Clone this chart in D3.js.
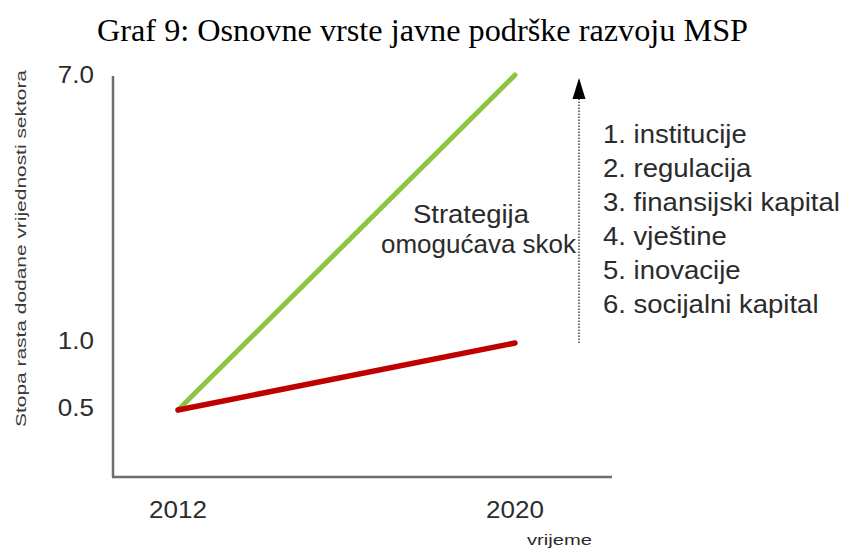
<!DOCTYPE html>
<html><head><meta charset="utf-8">
<script src="https://cdn.jsdelivr.net/npm/d3@7"></script>
<style>body{margin:0;background:#fff}</style>
</head><body>
<svg id="c" width="848" height="550"></svg>
<script>
const years = [2012, 2020];
const strategyValues = [0.5, 7.0];   // green
const baselineValues = [0.5, 1.0];   // red
const yTicks = [0.5, 1.0, 7.0];
const xTicks = [2012, 2020];
const measures = ["1. institucije","2. regulacija","3. finansijski kapital","4. vještine","5. inovacije","6. socijalni kapital"];
const titleText = "Graf 9: Osnovne vrste javne podrške razvoju MSP";
const yTitle = "Stopa rasta dodane vrijednosti sektora";
const xTitle = "vrijeme";
const annotation = ["Strategija", "omogućava skok"];

const svg = d3.select("#c");
const sans = "'Liberation Sans', Arial, sans-serif";
const ink = "#2b2b2b";

function stretch(sel, f) {
  sel.each(function () {
    const w = this.getComputedTextLength();
    d3.select(this).attr("textLength", w * f).attr("lengthAdjust", "spacingAndGlyphs");
  });
  return sel;
}

const x = d3.scaleLinear().domain([2012, 2020]).range([178, 515]);
const y = d3.scaleLinear().domain([0, 0.5, 1, 7]).range([477, 410, 343, 75]);

svg.append("text").attr("x", 97).attr("y", 41)
  .attr("font-family", "'Liberation Serif', 'Times New Roman', serif").attr("font-size", 32)
  .attr("fill", "#000").attr("textLength", 651).attr("lengthAdjust", "spacingAndGlyphs").text(titleText);

// axes lines
svg.append("line").attr("x1", 113).attr("x2", 113).attr("y1", 76).attr("y2", 477)
  .attr("stroke", "#6e6e6e").attr("stroke-width", 2.5);
svg.append("line").attr("x1", 112).attr("x2", 612).attr("y1", 477).attr("y2", 477)
  .attr("stroke", "#6e6e6e").attr("stroke-width", 2.5);

// y tick labels
stretch(svg.selectAll(".yt").data(yTicks).enter().append("text")
  .attr("x", 94).attr("y", (d, i) => [416, 349, 83][i])
  .attr("text-anchor", "end").attr("font-family", sans).attr("font-size", 23).attr("fill", ink)
  .text(d => d3.format(".1f")(d)), 1.13);

// x tick labels
stretch(svg.selectAll(".xt").data(xTicks).enter().append("text")
  .attr("x", d => x(d)).attr("y", 518)
  .attr("text-anchor", "middle").attr("font-family", sans).attr("font-size", 23).attr("fill", ink)
  .text(d => d), 1.13);

svg.append("text").attr("x", 527).attr("y", 545)
  .attr("font-family", sans).attr("font-size", 15).attr("fill", ink)
  .attr("textLength", 65).attr("lengthAdjust", "spacingAndGlyphs").text(xTitle);

svg.append("text").attr("transform", "translate(26,248.5) rotate(-90)").attr("text-anchor", "middle")
  .attr("font-family", sans).attr("font-size", 15).attr("fill", "#3a3a3a")
  .attr("textLength", 357).attr("lengthAdjust", "spacingAndGlyphs").text(yTitle);

const line = d3.line().x((d, i) => x(years[i])).y(d => y(d));
svg.append("path").attr("d", line(strategyValues)).attr("fill", "none")
  .attr("stroke", "#8cc640").attr("stroke-width", 5).attr("stroke-linecap", "round");
svg.append("path").attr("d", line(baselineValues)).attr("fill", "none")
  .attr("stroke", "#c00000").attr("stroke-width", 5.5).attr("stroke-linecap", "round");

// dotted arrow
svg.append("line").attr("x1", 579).attr("x2", 579).attr("y1", 343).attr("y2", 96)
  .attr("stroke", "#444").attr("stroke-width", 1.5).attr("stroke-dasharray", "1.5,1.5");
svg.append("path").attr("d", "M579,78 L572.5,99 L585.5,99 Z").attr("fill", "#000");

// annotation
svg.append("text").attr("x", 413).attr("y", 223)
  .attr("font-family", sans).attr("font-size", 25).attr("fill", ink)
  .attr("textLength", 116).attr("lengthAdjust", "spacingAndGlyphs").text(annotation[0]);
svg.append("text").attr("x", 381).attr("y", 253)
  .attr("font-family", sans).attr("font-size", 25).attr("fill", ink)
  .attr("textLength", 195).attr("lengthAdjust", "spacingAndGlyphs").text(annotation[1]);

// list
stretch(svg.selectAll(".m").data(measures).enter().append("text")
  .attr("x", 603).attr("y", (d, i) => 143 + i * 34)
  .attr("font-family", sans).attr("font-size", 25).attr("fill", ink).text(d => d), 1.1);
</script>
</body></html>
